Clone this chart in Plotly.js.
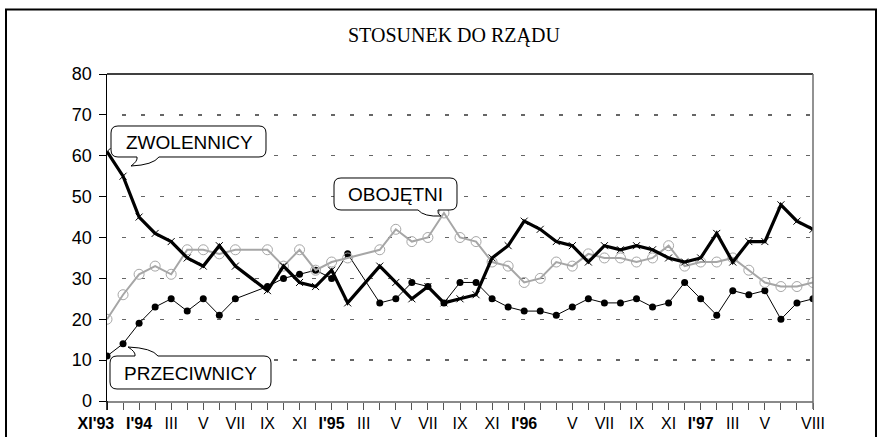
<!DOCTYPE html>
<html>
<head>
<meta charset="utf-8">
<script src="https://cdn.plot.ly/plotly-3.0.1.min.js"></script>
<style>html,body{margin:0;padding:0;background:#fff;}#chart{width:885px;height:437px;}</style>
</head>
<body>
<div id="chart"></div>
<script>
// survey positions on the time axis (one per tick), with tick labels
var tickLabels = ["<b>XI'93</b>\u00a0\u00a0\u00a0\u00a0\u00a0","","<b>I'94</b>","","III","","V","","VII","","IX","","XI","","<b>I'95</b>","","III","","V","","VII","","IX","","XI","","<b>I'96</b>","","","V","","VII","","IX","","XI","","<b>I'97</b>","","III","","V","","","VIII"];

var zwolennicy = [61,55,45,41,39,35,33,38,33,null,27,33,29,28,32,24,null,33,29,25,28,24,25,26,35,38,44,42,39,38,34,38,37,38,37,35,34,35,41,34,39,39,48,44,42];
var obojetni   = [20,26,31,33,31,37,37,36,37,null,37,33,37,32,34,35,null,37,42,39,40,46,40,39,34,33,29,30,34,33,36,35,35,34,35,38,33,34,34,35,32,29,28,28,29];
var przeciwnicy= [11,14,19,23,25,22,25,21,25,null,28,30,31,32,30,36,null,24,25,29,28,24,29,29,25,23,22,22,21,23,25,24,24,25,23,24,29,25,21,27,26,27,20,24,25];

var yTicks = [0,10,20,30,40,50,60,70,80];

var xIdx = tickLabels.map(function(_, i){ return i; });

// plot-area geometry in pixels
var L = 107, R = 813, T = 74, B = 401;
var W = R - L, H = B - T;
function P(px, py){ return ((px - L) / W).toFixed(5) + ',' + ((B - py) / H).toFixed(5); }

function calloutBottom(x1,y1,x2,y2,r,b1,b2,tx,ty){
  return 'M' + P(x1+r,y1) + ' L' + P(x2-r,y1) + ' Q' + P(x2,y1) + ' ' + P(x2,y1+r) +
    ' L' + P(x2,y2-r) + ' Q' + P(x2,y2) + ' ' + P(x2-r,y2) +
    ' L' + P(b2,y2) + ' Q' + P(b2-6,y2+8) + ' ' + P(tx,ty) +
    ' Q' + P(b1+1,y2+4) + ' ' + P(b1,y2) +
    ' L' + P(x1+r,y2) + ' Q' + P(x1,y2) + ' ' + P(x1,y2-r) +
    ' L' + P(x1,y1+r) + ' Q' + P(x1,y1) + ' ' + P(x1+r,y1) + ' Z';
}
function calloutTop(x1,y1,x2,y2,r,b1,b2,tx,ty){
  return 'M' + P(x1+r,y1) + ' L' + P(b1,y1) + ' Q' + P(b1+1,y1-4) + ' ' + P(tx,ty) +
    ' Q' + P(b2-6,y1-8) + ' ' + P(b2,y1) +
    ' L' + P(x2-r,y1) + ' Q' + P(x2,y1) + ' ' + P(x2,y1+r) +
    ' L' + P(x2,y2-r) + ' Q' + P(x2,y2) + ' ' + P(x2-r,y2) +
    ' L' + P(x1+r,y2) + ' Q' + P(x1,y2) + ' ' + P(x1,y2-r) +
    ' L' + P(x1,y1+r) + ' Q' + P(x1,y1) + ' ' + P(x1+r,y1) + ' Z';
}
function calloutBottomRight(x1,y1,x2,y2,r,b1,b2,tx,ty){
  return 'M' + P(x1+r,y1) + ' L' + P(x2-r,y1) + ' Q' + P(x2,y1) + ' ' + P(x2,y1+r) +
    ' L' + P(x2,y2-r) + ' Q' + P(x2,y2) + ' ' + P(x2-r,y2) +
    ' L' + P(b2,y2) + ' Q' + P(b2-1,y2+4) + ' ' + P(tx,ty) +
    ' Q' + P(b1+6,y2+7) + ' ' + P(b1,y2) +
    ' L' + P(x1+r,y2) + ' Q' + P(x1,y2) + ' ' + P(x1,y2-r) +
    ' L' + P(x1,y1+r) + ' Q' + P(x1,y1) + ' ' + P(x1+r,y1) + ' Z';
}

var font = 'Arial, "Liberation Sans", sans-serif';

var traces = [
  {x: xIdx, y: przeciwnicy, name: 'PRZECIWNICY', type: 'scatter', mode: 'lines+markers', connectgaps: true,
   line: {color: '#000', width: 1}, marker: {symbol: 'circle', size: 7, color: '#000', line: {color: '#000', width: 0}}},
  {x: xIdx, y: obojetni, name: 'OBOJĘTNI', type: 'scatter', mode: 'lines+markers', connectgaps: true,
   line: {color: '#a6a6a6', width: 2}, marker: {symbol: 'circle-open', size: 10, color: '#a6a6a6', line: {width: 1}}},
  {x: xIdx, y: zwolennicy, name: 'ZWOLENNICY', type: 'scatter', mode: 'lines+markers', connectgaps: true,
   line: {color: '#000', width: 3.2}, marker: {symbol: 'x-thin', size: 7, color: '#000', line: {color: '#000', width: 1}}}
];

var layout = {
  width: 885, height: 437,
  margin: {l: L, r: 885 - R, t: T, b: 437 - B, pad: 0},
  paper_bgcolor: '#fff', plot_bgcolor: '#fff',
  showlegend: false,
  xaxis: {
    range: [0, tickLabels.length - 1], tickmode: 'array', tickvals: xIdx, ticktext: tickLabels,
    showgrid: false, zeroline: false, showline: true, linecolor: '#8a8a8a', linewidth: 1.5,
    ticks: 'outside', ticklen: 7, tickcolor: '#555', tickwidth: 1, tickangle: 0,
    tickfont: {family: font, size: 16, color: '#000'}, automargin: false, fixedrange: true
  },
  yaxis: {
    range: [0, 80], tickmode: 'array', tickvals: yTicks, ticktext: yTicks.map(String),
    showgrid: true, gridcolor: '#666', gridwidth: 1.3, griddash: '0px,15px,4px,0px',
    zeroline: false, showline: true, linecolor: '#000', linewidth: 1.5,
    ticks: 'outside', ticklen: 7, tickcolor: '#000', tickwidth: 1,
    tickfont: {family: font, size: 18, color: '#000'}, ticklabelstandoff: 3,
    automargin: false, fixedrange: true
  },
  shapes: [
    // outer frame
    {type: 'rect', xref: 'paper', yref: 'paper', x0: (6 - L) / W, x1: (876 - L) / W, y0: (B - 460) / H, y1: (B - 9.5) / H,
     line: {color: '#000', width: 2}, fillcolor: 'rgba(0,0,0,0)', layer: 'below'},
    // top border
    {type: 'line', xref: 'paper', yref: 'paper', x0: 0, x1: 1, y0: 1, y1: 1, line: {color: '#000', width: 1.5}},
    // right border
    {type: 'line', xref: 'paper', yref: 'paper', x0: 1, x1: 1, y0: (B - 409) / H, y1: 1, line: {color: '#6e6e6e', width: 1.5}},
    // left axis extension below zero
    {type: 'line', xref: 'paper', yref: 'paper', x0: 0, x1: 0, y0: (B - 410) / H, y1: 0, line: {color: '#000', width: 1.5}},
    // callouts
    {type: 'path', xref: 'paper', yref: 'paper', path: calloutBottom(111,126,266,157,7,137,159,131,166),
     line: {color: '#000', width: 1}, fillcolor: '#fff'},
    {type: 'path', xref: 'paper', yref: 'paper', path: calloutBottomRight(334,178,457,210,7,418,438,441,216),
     line: {color: '#000', width: 1}, fillcolor: '#fff'},
    {type: 'path', xref: 'paper', yref: 'paper', path: calloutTop(110,356,271,389,7,135,158,128,347),
     line: {color: '#000', width: 1}, fillcolor: '#fff'}
  ],
  annotations: [
    {xref: 'paper', yref: 'paper', x: (454 - L) / W, y: (B - 35) / H, text: 'STOSUNEK DO RZĄDU', showarrow: false,
     xanchor: 'center', yanchor: 'middle', font: {family: '"Liberation Serif", "Times New Roman", serif', size: 20, color: '#000'}},
    {xref: 'paper', yref: 'paper', x: (189 - L) / W, y: (B - 142) / H, text: 'ZWOLENNICY', showarrow: false,
     xanchor: 'center', yanchor: 'middle', font: {family: font, size: 19, color: '#000'}},
    {xref: 'paper', yref: 'paper', x: (395 - L) / W, y: (B - 194.5) / H, text: 'OBOJĘTNI', showarrow: false,
     xanchor: 'center', yanchor: 'middle', font: {family: font, size: 19, color: '#000'}},
    {xref: 'paper', yref: 'paper', x: (190 - L) / W, y: (B - 373) / H, text: 'PRZECIWNICY', showarrow: false,
     xanchor: 'center', yanchor: 'middle', font: {family: font, size: 19, color: '#000'}}
  ]
};

Plotly.newPlot('chart', traces, layout, {staticPlot: true, displayModeBar: false});
</script>
</body>
</html>
